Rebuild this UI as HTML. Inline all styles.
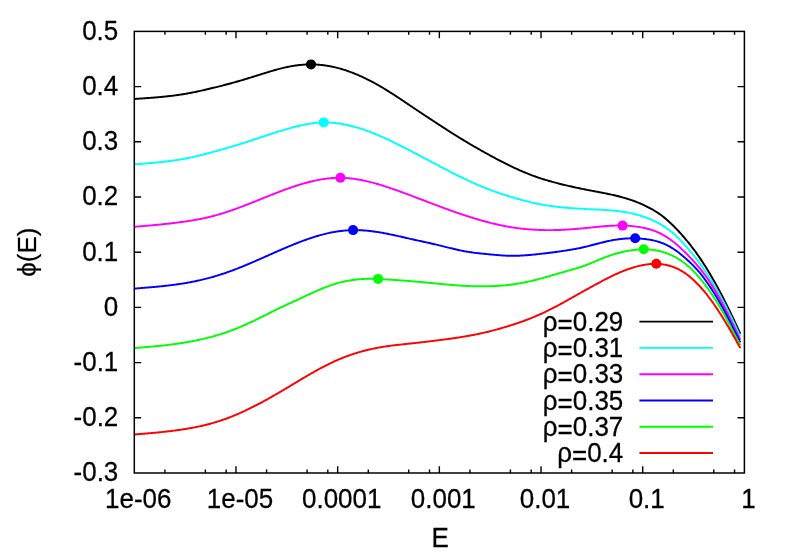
<!DOCTYPE html>
<html lang="en"><head><meta charset="utf-8"><title>plot</title>
<style>html,body{margin:0;padding:0;background:#fff}svg{display:block;will-change:transform}text{font-family:"Liberation Sans",sans-serif;font-size:26px;fill:#000;stroke:#000;stroke-width:0.25px}</style></head>
<body>
<svg width="789" height="552" viewBox="0 0 789 552">
<rect width="789" height="552" fill="#fff"/>
<path d="M134.3,98.98 135.3,98.91 136.3,98.84 137.3,98.77 138.3,98.70 139.3,98.63 140.3,98.57 141.3,98.50 142.3,98.43 143.3,98.36 144.3,98.29 145.3,98.22 146.3,98.14 147.3,98.07 148.3,98.00 149.3,97.92 150.3,97.85 151.3,97.77 152.3,97.69 153.3,97.61 154.3,97.53 155.3,97.45 156.3,97.37 157.3,97.28 158.3,97.19 159.3,97.10 160.3,97.01 161.3,96.92 162.3,96.82 163.3,96.73 164.3,96.63 165.3,96.52 166.3,96.42 167.3,96.31 168.3,96.20 169.3,96.09 170.3,95.97 171.3,95.85 172.3,95.73 173.3,95.61 174.3,95.48 175.3,95.35 176.3,95.21 177.3,95.08 178.3,94.94 179.3,94.79 180.3,94.64 181.3,94.49 182.3,94.33 183.3,94.17 184.3,94.01 185.3,93.84 186.3,93.67 187.3,93.49 188.3,93.31 189.3,93.13 190.3,92.94 191.3,92.75 192.3,92.55 193.3,92.35 194.3,92.15 195.3,91.94 196.3,91.73 197.3,91.52 198.3,91.31 199.3,91.09 200.3,90.87 201.3,90.64 202.3,90.42 203.3,90.19 204.3,89.96 205.3,89.73 206.3,89.50 207.3,89.26 208.3,89.02 209.3,88.78 210.3,88.55 211.3,88.30 212.3,88.06 213.3,87.82 214.3,87.58 215.3,87.33 216.3,87.08 217.3,86.84 218.3,86.59 219.3,86.34 220.3,86.08 221.3,85.83 222.3,85.58 223.3,85.32 224.3,85.06 225.3,84.80 226.3,84.54 227.3,84.28 228.3,84.01 229.3,83.74 230.3,83.47 231.3,83.20 232.3,82.93 233.3,82.65 234.3,82.37 235.3,82.09 236.3,81.81 237.3,81.52 238.3,81.23 239.3,80.94 240.3,80.65 241.3,80.36 242.3,80.06 243.3,79.76 244.3,79.46 245.3,79.16 246.3,78.86 247.3,78.55 248.3,78.25 249.3,77.94 250.3,77.63 251.3,77.33 252.3,77.02 253.3,76.71 254.3,76.39 255.3,76.08 256.3,75.77 257.3,75.46 258.3,75.14 259.3,74.83 260.3,74.52 261.3,74.21 262.3,73.89 263.3,73.58 264.3,73.27 265.3,72.96 266.3,72.65 267.3,72.34 268.3,72.04 269.3,71.73 270.3,71.43 271.3,71.13 272.3,70.84 273.3,70.55 274.3,70.26 275.3,69.98 276.3,69.70 277.3,69.42 278.3,69.15 279.3,68.89 280.3,68.63 281.3,68.37 282.3,68.13 283.3,67.88 284.3,67.65 285.3,67.42 286.3,67.20 287.3,66.99 288.3,66.78 289.3,66.59 290.3,66.40 291.3,66.22 292.3,66.04 293.3,65.88 294.3,65.72 295.3,65.57 296.3,65.43 297.3,65.30 298.3,65.18 299.3,65.06 300.3,64.96 301.3,64.86 302.3,64.78 303.3,64.70 304.3,64.63 305.3,64.57 306.3,64.52 307.3,64.48 308.3,64.45 309.3,64.43 310.3,64.42 311.3,64.42 312.3,64.43 313.3,64.45 314.3,64.48 315.3,64.52 316.3,64.57 317.3,64.63 318.3,64.70 319.3,64.78 320.3,64.87 321.3,64.97 322.3,65.08 323.3,65.19 324.3,65.32 325.3,65.46 326.3,65.61 327.3,65.77 328.3,65.93 329.3,66.11 330.3,66.29 331.3,66.49 332.3,66.69 333.3,66.91 334.3,67.13 335.3,67.36 336.3,67.61 337.3,67.86 338.3,68.12 339.3,68.39 340.3,68.67 341.3,68.95 342.3,69.25 343.3,69.56 344.3,69.87 345.3,70.19 346.3,70.52 347.3,70.86 348.3,71.21 349.3,71.57 350.3,71.93 351.3,72.31 352.3,72.69 353.3,73.08 354.3,73.47 355.3,73.88 356.3,74.29 357.3,74.71 358.3,75.14 359.3,75.57 360.3,76.02 361.3,76.47 362.3,76.93 363.3,77.39 364.3,77.87 365.3,78.35 366.3,78.83 367.3,79.33 368.3,79.83 369.3,80.33 370.3,80.85 371.3,81.37 372.3,81.90 373.3,82.43 374.3,82.97 375.3,83.52 376.3,84.08 377.3,84.64 378.3,85.20 379.3,85.77 380.3,86.35 381.3,86.94 382.3,87.53 383.3,88.12 384.3,88.72 385.3,89.33 386.3,89.94 387.3,90.56 388.3,91.19 389.3,91.81 390.3,92.45 391.3,93.08 392.3,93.73 393.3,94.37 394.3,95.02 395.3,95.67 396.3,96.33 397.3,96.99 398.3,97.65 399.3,98.31 400.3,98.98 401.3,99.64 402.3,100.31 403.3,100.98 404.3,101.65 405.3,102.32 406.3,103.00 407.3,103.67 408.3,104.34 409.3,105.02 410.3,105.69 411.3,106.36 412.3,107.03 413.3,107.70 414.3,108.37 415.3,109.04 416.3,109.71 417.3,110.37 418.3,111.04 419.3,111.71 420.3,112.37 421.3,113.04 422.3,113.70 423.3,114.36 424.3,115.03 425.3,115.69 426.3,116.35 427.3,117.01 428.3,117.67 429.3,118.33 430.3,118.99 431.3,119.65 432.3,120.30 433.3,120.96 434.3,121.62 435.3,122.27 436.3,122.93 437.3,123.58 438.3,124.23 439.3,124.89 440.3,125.54 441.3,126.19 442.3,126.84 443.3,127.49 444.3,128.13 445.3,128.78 446.3,129.42 447.3,130.06 448.3,130.71 449.3,131.34 450.3,131.98 451.3,132.62 452.3,133.25 453.3,133.88 454.3,134.51 455.3,135.14 456.3,135.76 457.3,136.38 458.3,137.00 459.3,137.62 460.3,138.23 461.3,138.85 462.3,139.45 463.3,140.06 464.3,140.66 465.3,141.26 466.3,141.86 467.3,142.45 468.3,143.05 469.3,143.64 470.3,144.22 471.3,144.81 472.3,145.39 473.3,145.97 474.3,146.55 475.3,147.13 476.3,147.70 477.3,148.27 478.3,148.84 479.3,149.41 480.3,149.98 481.3,150.54 482.3,151.11 483.3,151.67 484.3,152.23 485.3,152.78 486.3,153.34 487.3,153.89 488.3,154.45 489.3,155.00 490.3,155.54 491.3,156.09 492.3,156.63 493.3,157.17 494.3,157.71 495.3,158.25 496.3,158.78 497.3,159.31 498.3,159.84 499.3,160.37 500.3,160.89 501.3,161.41 502.3,161.92 503.3,162.43 504.3,162.94 505.3,163.45 506.3,163.95 507.3,164.44 508.3,164.94 509.3,165.43 510.3,165.91 511.3,166.39 512.3,166.87 513.3,167.34 514.3,167.81 515.3,168.28 516.3,168.73 517.3,169.19 518.3,169.64 519.3,170.08 520.3,170.53 521.3,170.96 522.3,171.39 523.3,171.82 524.3,172.24 525.3,172.65 526.3,173.06 527.3,173.47 528.3,173.87 529.3,174.26 530.3,174.65 531.3,175.04 532.3,175.41 533.3,175.79 534.3,176.15 535.3,176.51 536.3,176.87 537.3,177.22 538.3,177.56 539.3,177.90 540.3,178.23 541.3,178.56 542.3,178.88 543.3,179.20 544.3,179.51 545.3,179.81 546.3,180.12 547.3,180.41 548.3,180.71 549.3,181.00 550.3,181.28 551.3,181.56 552.3,181.84 553.3,182.11 554.3,182.38 555.3,182.65 556.3,182.91 557.3,183.17 558.3,183.43 559.3,183.68 560.3,183.94 561.3,184.19 562.3,184.43 563.3,184.68 564.3,184.92 565.3,185.16 566.3,185.40 567.3,185.63 568.3,185.86 569.3,186.09 570.3,186.32 571.3,186.55 572.3,186.77 573.3,187.00 574.3,187.22 575.3,187.43 576.3,187.65 577.3,187.86 578.3,188.07 579.3,188.28 580.3,188.49 581.3,188.70 582.3,188.90 583.3,189.11 584.3,189.31 585.3,189.50 586.3,189.70 587.3,189.90 588.3,190.09 589.3,190.28 590.3,190.47 591.3,190.66 592.3,190.85 593.3,191.04 594.3,191.23 595.3,191.42 596.3,191.61 597.3,191.80 598.3,191.99 599.3,192.18 600.3,192.37 601.3,192.56 602.3,192.76 603.3,192.95 604.3,193.15 605.3,193.35 606.3,193.56 607.3,193.76 608.3,193.97 609.3,194.18 610.3,194.40 611.3,194.62 612.3,194.84 613.3,195.07 614.3,195.30 615.3,195.53 616.3,195.77 617.3,196.02 618.3,196.27 619.3,196.52 620.3,196.78 621.3,197.05 622.3,197.32 623.3,197.60 624.3,197.89 625.3,198.18 626.3,198.48 627.3,198.78 628.3,199.10 629.3,199.42 630.3,199.75 631.3,200.09 632.3,200.43 633.3,200.79 634.3,201.15 635.3,201.52 636.3,201.90 637.3,202.29 638.3,202.69 639.3,203.10 640.3,203.52 641.3,203.95 642.3,204.39 643.3,204.84 644.3,205.31 645.3,205.78 646.3,206.27 647.3,206.76 648.3,207.27 649.3,207.80 650.3,208.33 651.3,208.88 652.3,209.44 653.3,210.02 654.3,210.61 655.3,211.22 656.3,211.85 657.3,212.49 658.3,213.15 659.3,213.84 660.3,214.54 661.3,215.28 662.3,216.04 663.3,216.82 664.3,217.63 665.3,218.46 666.3,219.32 667.3,220.19 668.3,221.08 669.3,221.99 670.3,222.92 671.3,223.86 672.3,224.82 673.3,225.80 674.3,226.79 675.3,227.80 676.3,228.83 677.3,229.87 678.3,230.93 679.3,232.01 680.3,233.10 681.3,234.21 682.3,235.34 683.3,236.49 684.3,237.66 685.3,238.84 686.3,240.04 687.3,241.25 688.3,242.47 689.3,243.72 690.3,244.98 691.3,246.25 692.3,247.55 693.3,248.86 694.3,250.19 695.3,251.54 696.3,252.92 697.3,254.32 698.3,255.73 699.3,257.17 700.3,258.64 701.3,260.12 702.3,261.63 703.3,263.16 704.3,264.71 705.3,266.29 706.3,267.89 707.3,269.51 708.3,271.16 709.3,272.82 710.3,274.50 711.3,276.20 712.3,277.93 713.3,279.67 714.3,281.43 715.3,283.21 716.3,285.01 717.3,286.83 718.3,288.67 719.3,290.53 720.3,292.41 721.3,294.31 722.3,296.23 723.3,298.16 724.3,300.12 725.3,302.10 726.3,304.09 727.3,306.10 728.3,308.13 729.3,310.18 730.3,312.24 731.3,314.32 732.3,316.41 733.3,318.53 734.3,320.66 735.3,322.80 736.3,324.96 737.3,327.14 738.3,329.33 739.3,331.53 740.3,333.73" fill="none" stroke="#000000" stroke-width="1.95" stroke-linejoin="round"/>
<path d="M134.3,164.40 135.3,164.32 136.3,164.24 137.3,164.16 138.3,164.09 139.3,164.01 140.3,163.93 141.3,163.85 142.3,163.77 143.3,163.68 144.3,163.60 145.3,163.52 146.3,163.44 147.3,163.35 148.3,163.27 149.3,163.18 150.3,163.09 151.3,163.01 152.3,162.92 153.3,162.82 154.3,162.73 155.3,162.64 156.3,162.54 157.3,162.44 158.3,162.34 159.3,162.24 160.3,162.13 161.3,162.03 162.3,161.92 163.3,161.81 164.3,161.69 165.3,161.58 166.3,161.46 167.3,161.34 168.3,161.21 169.3,161.08 170.3,160.95 171.3,160.82 172.3,160.68 173.3,160.54 174.3,160.40 175.3,160.25 176.3,160.10 177.3,159.94 178.3,159.79 179.3,159.62 180.3,159.46 181.3,159.29 182.3,159.11 183.3,158.93 184.3,158.75 185.3,158.56 186.3,158.37 187.3,158.17 188.3,157.97 189.3,157.77 190.3,157.56 191.3,157.34 192.3,157.12 193.3,156.90 194.3,156.68 195.3,156.45 196.3,156.21 197.3,155.98 198.3,155.74 199.3,155.50 200.3,155.25 201.3,155.00 202.3,154.75 203.3,154.50 204.3,154.24 205.3,153.99 206.3,153.73 207.3,153.47 208.3,153.20 209.3,152.94 210.3,152.67 211.3,152.40 212.3,152.13 213.3,151.86 214.3,151.59 215.3,151.32 216.3,151.04 217.3,150.77 218.3,150.49 219.3,150.21 220.3,149.93 221.3,149.65 222.3,149.37 223.3,149.08 224.3,148.79 225.3,148.51 226.3,148.22 227.3,147.93 228.3,147.63 229.3,147.34 230.3,147.04 231.3,146.75 232.3,146.45 233.3,146.14 234.3,145.84 235.3,145.54 236.3,145.23 237.3,144.92 238.3,144.61 239.3,144.30 240.3,143.99 241.3,143.67 242.3,143.35 243.3,143.04 244.3,142.72 245.3,142.40 246.3,142.07 247.3,141.75 248.3,141.43 249.3,141.10 250.3,140.77 251.3,140.45 252.3,140.12 253.3,139.79 254.3,139.46 255.3,139.13 256.3,138.81 257.3,138.48 258.3,138.15 259.3,137.81 260.3,137.48 261.3,137.15 262.3,136.82 263.3,136.49 264.3,136.16 265.3,135.83 266.3,135.51 267.3,135.18 268.3,134.85 269.3,134.52 270.3,134.20 271.3,133.87 272.3,133.55 273.3,133.23 274.3,132.91 275.3,132.59 276.3,132.27 277.3,131.96 278.3,131.64 279.3,131.33 280.3,131.02 281.3,130.72 282.3,130.41 283.3,130.11 284.3,129.81 285.3,129.52 286.3,129.22 287.3,128.93 288.3,128.64 289.3,128.36 290.3,128.08 291.3,127.80 292.3,127.53 293.3,127.27 294.3,127.00 295.3,126.74 296.3,126.49 297.3,126.24 298.3,126.00 299.3,125.77 300.3,125.54 301.3,125.31 302.3,125.10 303.3,124.89 304.3,124.68 305.3,124.49 306.3,124.30 307.3,124.12 308.3,123.94 309.3,123.78 310.3,123.62 311.3,123.48 312.3,123.34 313.3,123.21 314.3,123.09 315.3,122.98 316.3,122.88 317.3,122.79 318.3,122.71 319.3,122.64 320.3,122.58 321.3,122.53 322.3,122.50 323.3,122.47 324.3,122.46 325.3,122.46 326.3,122.47 327.3,122.49 328.3,122.52 329.3,122.57 330.3,122.62 331.3,122.69 332.3,122.76 333.3,122.85 334.3,122.95 335.3,123.05 336.3,123.17 337.3,123.29 338.3,123.43 339.3,123.57 340.3,123.72 341.3,123.88 342.3,124.05 343.3,124.23 344.3,124.42 345.3,124.62 346.3,124.82 347.3,125.04 348.3,125.26 349.3,125.49 350.3,125.73 351.3,125.97 352.3,126.23 353.3,126.49 354.3,126.76 355.3,127.04 356.3,127.32 357.3,127.61 358.3,127.91 359.3,128.22 360.3,128.53 361.3,128.85 362.3,129.18 363.3,129.51 364.3,129.85 365.3,130.20 366.3,130.55 367.3,130.91 368.3,131.27 369.3,131.64 370.3,132.02 371.3,132.40 372.3,132.79 373.3,133.19 374.3,133.59 375.3,133.99 376.3,134.40 377.3,134.82 378.3,135.24 379.3,135.66 380.3,136.09 381.3,136.53 382.3,136.97 383.3,137.41 384.3,137.86 385.3,138.31 386.3,138.77 387.3,139.23 388.3,139.69 389.3,140.16 390.3,140.64 391.3,141.11 392.3,141.59 393.3,142.07 394.3,142.56 395.3,143.05 396.3,143.54 397.3,144.04 398.3,144.53 399.3,145.04 400.3,145.54 401.3,146.04 402.3,146.55 403.3,147.06 404.3,147.58 405.3,148.09 406.3,148.61 407.3,149.12 408.3,149.64 409.3,150.16 410.3,150.69 411.3,151.21 412.3,151.74 413.3,152.26 414.3,152.79 415.3,153.32 416.3,153.85 417.3,154.37 418.3,154.90 419.3,155.44 420.3,155.97 421.3,156.50 422.3,157.03 423.3,157.56 424.3,158.10 425.3,158.63 426.3,159.16 427.3,159.69 428.3,160.22 429.3,160.76 430.3,161.29 431.3,161.82 432.3,162.35 433.3,162.88 434.3,163.41 435.3,163.94 436.3,164.46 437.3,164.99 438.3,165.52 439.3,166.04 440.3,166.57 441.3,167.09 442.3,167.61 443.3,168.14 444.3,168.66 445.3,169.18 446.3,169.69 447.3,170.21 448.3,170.73 449.3,171.24 450.3,171.75 451.3,172.26 452.3,172.77 453.3,173.28 454.3,173.78 455.3,174.28 456.3,174.78 457.3,175.28 458.3,175.78 459.3,176.27 460.3,176.76 461.3,177.25 462.3,177.73 463.3,178.21 464.3,178.69 465.3,179.17 466.3,179.64 467.3,180.12 468.3,180.59 469.3,181.05 470.3,181.52 471.3,181.98 472.3,182.44 473.3,182.89 474.3,183.34 475.3,183.79 476.3,184.24 477.3,184.68 478.3,185.11 479.3,185.54 480.3,185.97 481.3,186.39 482.3,186.81 483.3,187.22 484.3,187.63 485.3,188.03 486.3,188.42 487.3,188.81 488.3,189.20 489.3,189.58 490.3,189.95 491.3,190.32 492.3,190.69 493.3,191.05 494.3,191.40 495.3,191.75 496.3,192.10 497.3,192.45 498.3,192.79 499.3,193.12 500.3,193.46 501.3,193.79 502.3,194.11 503.3,194.44 504.3,194.76 505.3,195.07 506.3,195.39 507.3,195.70 508.3,196.01 509.3,196.31 510.3,196.62 511.3,196.92 512.3,197.22 513.3,197.52 514.3,197.82 515.3,198.11 516.3,198.40 517.3,198.69 518.3,198.97 519.3,199.26 520.3,199.54 521.3,199.81 522.3,200.09 523.3,200.36 524.3,200.62 525.3,200.89 526.3,201.14 527.3,201.40 528.3,201.65 529.3,201.90 530.3,202.14 531.3,202.38 532.3,202.61 533.3,202.84 534.3,203.06 535.3,203.28 536.3,203.49 537.3,203.70 538.3,203.90 539.3,204.10 540.3,204.29 541.3,204.48 542.3,204.66 543.3,204.83 544.3,205.01 545.3,205.17 546.3,205.34 547.3,205.49 548.3,205.65 549.3,205.80 550.3,205.94 551.3,206.08 552.3,206.22 553.3,206.35 554.3,206.48 555.3,206.61 556.3,206.73 557.3,206.85 558.3,206.96 559.3,207.07 560.3,207.18 561.3,207.28 562.3,207.38 563.3,207.48 564.3,207.57 565.3,207.67 566.3,207.75 567.3,207.84 568.3,207.92 569.3,208.00 570.3,208.08 571.3,208.16 572.3,208.23 573.3,208.30 574.3,208.37 575.3,208.44 576.3,208.50 577.3,208.56 578.3,208.62 579.3,208.68 580.3,208.74 581.3,208.79 582.3,208.85 583.3,208.90 584.3,208.95 585.3,209.00 586.3,209.05 587.3,209.10 588.3,209.14 589.3,209.19 590.3,209.23 591.3,209.28 592.3,209.32 593.3,209.36 594.3,209.41 595.3,209.45 596.3,209.50 597.3,209.55 598.3,209.60 599.3,209.64 600.3,209.70 601.3,209.75 602.3,209.81 603.3,209.86 604.3,209.92 605.3,209.99 606.3,210.05 607.3,210.12 608.3,210.19 609.3,210.27 610.3,210.35 611.3,210.44 612.3,210.52 613.3,210.62 614.3,210.72 615.3,210.82 616.3,210.93 617.3,211.04 618.3,211.16 619.3,211.29 620.3,211.42 621.3,211.56 622.3,211.70 623.3,211.85 624.3,212.01 625.3,212.18 626.3,212.35 627.3,212.53 628.3,212.72 629.3,212.91 630.3,213.12 631.3,213.33 632.3,213.55 633.3,213.79 634.3,214.03 635.3,214.28 636.3,214.53 637.3,214.80 638.3,215.08 639.3,215.37 640.3,215.67 641.3,215.98 642.3,216.30 643.3,216.63 644.3,216.97 645.3,217.33 646.3,217.69 647.3,218.07 648.3,218.45 649.3,218.85 650.3,219.26 651.3,219.68 652.3,220.12 653.3,220.57 654.3,221.03 655.3,221.51 656.3,222.00 657.3,222.51 658.3,223.03 659.3,223.57 660.3,224.13 661.3,224.71 662.3,225.32 663.3,225.94 664.3,226.59 665.3,227.26 666.3,227.95 667.3,228.67 668.3,229.41 669.3,230.17 670.3,230.96 671.3,231.78 672.3,232.61 673.3,233.47 674.3,234.35 675.3,235.25 676.3,236.17 677.3,237.12 678.3,238.08 679.3,239.07 680.3,240.09 681.3,241.12 682.3,242.18 683.3,243.26 684.3,244.36 685.3,245.48 686.3,246.61 687.3,247.76 688.3,248.92 689.3,250.10 690.3,251.30 691.3,252.51 692.3,253.74 693.3,254.99 694.3,256.26 695.3,257.54 696.3,258.85 697.3,260.17 698.3,261.51 699.3,262.87 700.3,264.25 701.3,265.65 702.3,267.06 703.3,268.50 704.3,269.96 705.3,271.44 706.3,272.93 707.3,274.45 708.3,275.99 709.3,277.55 710.3,279.13 711.3,280.73 712.3,282.36 713.3,284.00 714.3,285.66 715.3,287.34 716.3,289.05 717.3,290.77 718.3,292.51 719.3,294.28 720.3,296.06 721.3,297.87 722.3,299.70 723.3,301.54 724.3,303.41 725.3,305.31 726.3,307.24 727.3,309.19 728.3,311.16 729.3,313.17 730.3,315.19 731.3,317.24 732.3,319.31 733.3,321.40 734.3,323.51 735.3,325.64 736.3,327.80 737.3,329.96 738.3,332.14 739.3,334.33 740.3,336.52" fill="none" stroke="#00ffff" stroke-width="1.95" stroke-linejoin="round"/>
<path d="M134.3,226.80 135.3,226.72 136.3,226.63 137.3,226.55 138.3,226.46 139.3,226.38 140.3,226.30 141.3,226.21 142.3,226.13 143.3,226.04 144.3,225.96 145.3,225.87 146.3,225.79 147.3,225.70 148.3,225.61 149.3,225.52 150.3,225.43 151.3,225.35 152.3,225.26 153.3,225.16 154.3,225.07 155.3,224.98 156.3,224.89 157.3,224.79 158.3,224.70 159.3,224.60 160.3,224.50 161.3,224.40 162.3,224.30 163.3,224.20 164.3,224.09 165.3,223.99 166.3,223.88 167.3,223.77 168.3,223.66 169.3,223.55 170.3,223.44 171.3,223.32 172.3,223.21 173.3,223.09 174.3,222.97 175.3,222.85 176.3,222.72 177.3,222.59 178.3,222.47 179.3,222.33 180.3,222.20 181.3,222.07 182.3,221.93 183.3,221.79 184.3,221.64 185.3,221.50 186.3,221.35 187.3,221.20 188.3,221.05 189.3,220.89 190.3,220.73 191.3,220.57 192.3,220.40 193.3,220.23 194.3,220.06 195.3,219.89 196.3,219.71 197.3,219.52 198.3,219.33 199.3,219.14 200.3,218.95 201.3,218.75 202.3,218.54 203.3,218.33 204.3,218.12 205.3,217.90 206.3,217.68 207.3,217.45 208.3,217.22 209.3,216.98 210.3,216.73 211.3,216.49 212.3,216.23 213.3,215.97 214.3,215.70 215.3,215.43 216.3,215.15 217.3,214.87 218.3,214.59 219.3,214.29 220.3,214.00 221.3,213.70 222.3,213.39 223.3,213.08 224.3,212.76 225.3,212.44 226.3,212.12 227.3,211.79 228.3,211.46 229.3,211.12 230.3,210.78 231.3,210.44 232.3,210.09 233.3,209.74 234.3,209.38 235.3,209.03 236.3,208.66 237.3,208.30 238.3,207.93 239.3,207.56 240.3,207.19 241.3,206.81 242.3,206.43 243.3,206.05 244.3,205.67 245.3,205.28 246.3,204.89 247.3,204.50 248.3,204.11 249.3,203.72 250.3,203.32 251.3,202.93 252.3,202.53 253.3,202.13 254.3,201.73 255.3,201.33 256.3,200.93 257.3,200.53 258.3,200.12 259.3,199.72 260.3,199.32 261.3,198.91 262.3,198.51 263.3,198.11 264.3,197.71 265.3,197.30 266.3,196.90 267.3,196.50 268.3,196.10 269.3,195.70 270.3,195.30 271.3,194.90 272.3,194.51 273.3,194.11 274.3,193.72 275.3,193.33 276.3,192.94 277.3,192.55 278.3,192.17 279.3,191.78 280.3,191.40 281.3,191.02 282.3,190.65 283.3,190.27 284.3,189.90 285.3,189.53 286.3,189.17 287.3,188.81 288.3,188.45 289.3,188.10 290.3,187.75 291.3,187.40 292.3,187.06 293.3,186.72 294.3,186.38 295.3,186.05 296.3,185.73 297.3,185.40 298.3,185.09 299.3,184.78 300.3,184.47 301.3,184.17 302.3,183.87 303.3,183.58 304.3,183.29 305.3,183.01 306.3,182.74 307.3,182.47 308.3,182.21 309.3,181.95 310.3,181.70 311.3,181.46 312.3,181.22 313.3,180.99 314.3,180.77 315.3,180.56 316.3,180.35 317.3,180.14 318.3,179.95 319.3,179.76 320.3,179.59 321.3,179.41 322.3,179.25 323.3,179.10 324.3,178.95 325.3,178.81 326.3,178.68 327.3,178.56 328.3,178.45 329.3,178.35 330.3,178.25 331.3,178.17 332.3,178.09 333.3,178.02 334.3,177.97 335.3,177.92 336.3,177.88 337.3,177.86 338.3,177.84 339.3,177.83 340.3,177.84 341.3,177.85 342.3,177.87 343.3,177.91 344.3,177.95 345.3,178.00 346.3,178.07 347.3,178.14 348.3,178.22 349.3,178.31 350.3,178.41 351.3,178.52 352.3,178.64 353.3,178.77 354.3,178.90 355.3,179.04 356.3,179.20 357.3,179.35 358.3,179.52 359.3,179.70 360.3,179.88 361.3,180.07 362.3,180.26 363.3,180.47 364.3,180.68 365.3,180.89 366.3,181.12 367.3,181.35 368.3,181.59 369.3,181.83 370.3,182.08 371.3,182.33 372.3,182.59 373.3,182.86 374.3,183.13 375.3,183.40 376.3,183.69 377.3,183.97 378.3,184.26 379.3,184.56 380.3,184.86 381.3,185.16 382.3,185.47 383.3,185.79 384.3,186.10 385.3,186.42 386.3,186.75 387.3,187.07 388.3,187.41 389.3,187.74 390.3,188.08 391.3,188.42 392.3,188.76 393.3,189.11 394.3,189.46 395.3,189.81 396.3,190.16 397.3,190.52 398.3,190.87 399.3,191.23 400.3,191.60 401.3,191.96 402.3,192.33 403.3,192.70 404.3,193.07 405.3,193.44 406.3,193.81 407.3,194.18 408.3,194.56 409.3,194.93 410.3,195.31 411.3,195.69 412.3,196.07 413.3,196.44 414.3,196.82 415.3,197.20 416.3,197.59 417.3,197.97 418.3,198.35 419.3,198.73 420.3,199.11 421.3,199.49 422.3,199.88 423.3,200.26 424.3,200.64 425.3,201.02 426.3,201.41 427.3,201.79 428.3,202.17 429.3,202.55 430.3,202.93 431.3,203.31 432.3,203.69 433.3,204.07 434.3,204.45 435.3,204.83 436.3,205.21 437.3,205.59 438.3,205.96 439.3,206.34 440.3,206.71 441.3,207.08 442.3,207.45 443.3,207.82 444.3,208.19 445.3,208.56 446.3,208.92 447.3,209.28 448.3,209.65 449.3,210.01 450.3,210.36 451.3,210.72 452.3,211.08 453.3,211.43 454.3,211.78 455.3,212.13 456.3,212.48 457.3,212.82 458.3,213.16 459.3,213.51 460.3,213.84 461.3,214.18 462.3,214.52 463.3,214.85 464.3,215.18 465.3,215.51 466.3,215.83 467.3,216.16 468.3,216.48 469.3,216.79 470.3,217.11 471.3,217.42 472.3,217.73 473.3,218.04 474.3,218.35 475.3,218.65 476.3,218.95 477.3,219.25 478.3,219.54 479.3,219.83 480.3,220.12 481.3,220.40 482.3,220.69 483.3,220.97 484.3,221.24 485.3,221.51 486.3,221.78 487.3,222.05 488.3,222.31 489.3,222.57 490.3,222.83 491.3,223.08 492.3,223.33 493.3,223.57 494.3,223.81 495.3,224.05 496.3,224.28 497.3,224.51 498.3,224.73 499.3,224.95 500.3,225.17 501.3,225.38 502.3,225.58 503.3,225.79 504.3,225.98 505.3,226.18 506.3,226.36 507.3,226.55 508.3,226.73 509.3,226.90 510.3,227.07 511.3,227.23 512.3,227.39 513.3,227.55 514.3,227.69 515.3,227.84 516.3,227.98 517.3,228.11 518.3,228.24 519.3,228.36 520.3,228.48 521.3,228.60 522.3,228.71 523.3,228.81 524.3,228.92 525.3,229.01 526.3,229.11 527.3,229.19 528.3,229.28 529.3,229.36 530.3,229.43 531.3,229.51 532.3,229.57 533.3,229.64 534.3,229.70 535.3,229.75 536.3,229.80 537.3,229.85 538.3,229.89 539.3,229.93 540.3,229.97 541.3,230.00 542.3,230.03 543.3,230.06 544.3,230.08 545.3,230.10 546.3,230.11 547.3,230.12 548.3,230.13 549.3,230.13 550.3,230.13 551.3,230.12 552.3,230.12 553.3,230.10 554.3,230.09 555.3,230.07 556.3,230.05 557.3,230.02 558.3,229.99 559.3,229.96 560.3,229.92 561.3,229.88 562.3,229.84 563.3,229.79 564.3,229.74 565.3,229.69 566.3,229.63 567.3,229.57 568.3,229.51 569.3,229.44 570.3,229.37 571.3,229.30 572.3,229.23 573.3,229.15 574.3,229.07 575.3,228.99 576.3,228.91 577.3,228.82 578.3,228.73 579.3,228.64 580.3,228.55 581.3,228.46 582.3,228.37 583.3,228.27 584.3,228.18 585.3,228.08 586.3,227.98 587.3,227.88 588.3,227.78 589.3,227.68 590.3,227.57 591.3,227.47 592.3,227.37 593.3,227.27 594.3,227.17 595.3,227.07 596.3,226.97 597.3,226.87 598.3,226.77 599.3,226.68 600.3,226.59 601.3,226.50 602.3,226.41 603.3,226.33 604.3,226.24 605.3,226.17 606.3,226.09 607.3,226.02 608.3,225.95 609.3,225.89 610.3,225.83 611.3,225.78 612.3,225.73 613.3,225.68 614.3,225.65 615.3,225.61 616.3,225.59 617.3,225.56 618.3,225.55 619.3,225.54 620.3,225.54 621.3,225.55 622.3,225.56 623.3,225.58 624.3,225.61 625.3,225.65 626.3,225.69 627.3,225.74 628.3,225.80 629.3,225.87 630.3,225.95 631.3,226.04 632.3,226.13 633.3,226.24 634.3,226.35 635.3,226.47 636.3,226.60 637.3,226.74 638.3,226.89 639.3,227.06 640.3,227.23 641.3,227.41 642.3,227.60 643.3,227.80 644.3,228.01 645.3,228.23 646.3,228.46 647.3,228.71 648.3,228.96 649.3,229.23 650.3,229.52 651.3,229.82 652.3,230.14 653.3,230.47 654.3,230.83 655.3,231.21 656.3,231.61 657.3,232.04 658.3,232.49 659.3,232.95 660.3,233.44 661.3,233.95 662.3,234.48 663.3,235.04 664.3,235.61 665.3,236.21 666.3,236.83 667.3,237.47 668.3,238.13 669.3,238.81 670.3,239.52 671.3,240.25 672.3,241.01 673.3,241.79 674.3,242.59 675.3,243.41 676.3,244.25 677.3,245.11 678.3,245.99 679.3,246.88 680.3,247.79 681.3,248.72 682.3,249.66 683.3,250.61 684.3,251.57 685.3,252.55 686.3,253.53 687.3,254.53 688.3,255.54 689.3,256.56 690.3,257.60 691.3,258.64 692.3,259.71 693.3,260.79 694.3,261.89 695.3,263.01 696.3,264.15 697.3,265.30 698.3,266.48 699.3,267.69 700.3,268.92 701.3,270.17 702.3,271.44 703.3,272.75 704.3,274.08 705.3,275.45 706.3,276.84 707.3,278.27 708.3,279.73 709.3,281.23 710.3,282.75 711.3,284.30 712.3,285.89 713.3,287.50 714.3,289.14 715.3,290.81 716.3,292.50 717.3,294.22 718.3,295.96 719.3,297.73 720.3,299.53 721.3,301.34 722.3,303.19 723.3,305.06 724.3,306.95 725.3,308.88 726.3,310.83 727.3,312.80 728.3,314.80 729.3,316.81 730.3,318.85 731.3,320.91 732.3,322.98 733.3,325.07 734.3,327.17 735.3,329.29 736.3,331.41 737.3,333.53 738.3,335.64 739.3,337.75 740.3,339.85" fill="none" stroke="#ff00ff" stroke-width="1.95" stroke-linejoin="round"/>
<path d="M134.3,288.60 135.3,288.52 136.3,288.44 137.3,288.36 138.3,288.28 139.3,288.20 140.3,288.12 141.3,288.04 142.3,287.96 143.3,287.88 144.3,287.80 145.3,287.72 146.3,287.63 147.3,287.55 148.3,287.47 149.3,287.38 150.3,287.29 151.3,287.21 152.3,287.12 153.3,287.03 154.3,286.94 155.3,286.85 156.3,286.75 157.3,286.66 158.3,286.56 159.3,286.47 160.3,286.37 161.3,286.26 162.3,286.16 163.3,286.06 164.3,285.95 165.3,285.84 166.3,285.73 167.3,285.61 168.3,285.50 169.3,285.38 170.3,285.26 171.3,285.13 172.3,285.01 173.3,284.88 174.3,284.75 175.3,284.61 176.3,284.48 177.3,284.34 178.3,284.19 179.3,284.05 180.3,283.90 181.3,283.74 182.3,283.59 183.3,283.43 184.3,283.26 185.3,283.10 186.3,282.92 187.3,282.75 188.3,282.57 189.3,282.39 190.3,282.20 191.3,282.01 192.3,281.82 193.3,281.62 194.3,281.42 195.3,281.21 196.3,281.00 197.3,280.79 198.3,280.57 199.3,280.35 200.3,280.12 201.3,279.89 202.3,279.66 203.3,279.42 204.3,279.17 205.3,278.92 206.3,278.67 207.3,278.41 208.3,278.15 209.3,277.88 210.3,277.61 211.3,277.33 212.3,277.05 213.3,276.76 214.3,276.47 215.3,276.17 216.3,275.87 217.3,275.57 218.3,275.26 219.3,274.94 220.3,274.63 221.3,274.30 222.3,273.97 223.3,273.64 224.3,273.31 225.3,272.97 226.3,272.62 227.3,272.27 228.3,271.92 229.3,271.56 230.3,271.20 231.3,270.84 232.3,270.47 233.3,270.10 234.3,269.72 235.3,269.34 236.3,268.96 237.3,268.57 238.3,268.18 239.3,267.78 240.3,267.38 241.3,266.98 242.3,266.58 243.3,266.17 244.3,265.76 245.3,265.35 246.3,264.93 247.3,264.51 248.3,264.09 249.3,263.67 250.3,263.24 251.3,262.82 252.3,262.39 253.3,261.96 254.3,261.52 255.3,261.09 256.3,260.65 257.3,260.22 258.3,259.78 259.3,259.34 260.3,258.90 261.3,258.46 262.3,258.02 263.3,257.57 264.3,257.13 265.3,256.69 266.3,256.24 267.3,255.80 268.3,255.35 269.3,254.91 270.3,254.47 271.3,254.02 272.3,253.58 273.3,253.14 274.3,252.69 275.3,252.25 276.3,251.81 277.3,251.37 278.3,250.93 279.3,250.50 280.3,250.06 281.3,249.63 282.3,249.20 283.3,248.76 284.3,248.33 285.3,247.91 286.3,247.48 287.3,247.06 288.3,246.64 289.3,246.22 290.3,245.80 291.3,245.39 292.3,244.98 293.3,244.57 294.3,244.17 295.3,243.77 296.3,243.37 297.3,242.98 298.3,242.59 299.3,242.20 300.3,241.82 301.3,241.44 302.3,241.06 303.3,240.69 304.3,240.32 305.3,239.96 306.3,239.60 307.3,239.25 308.3,238.90 309.3,238.56 310.3,238.22 311.3,237.88 312.3,237.56 313.3,237.23 314.3,236.92 315.3,236.61 316.3,236.30 317.3,236.00 318.3,235.71 319.3,235.42 320.3,235.14 321.3,234.86 322.3,234.60 323.3,234.33 324.3,234.08 325.3,233.83 326.3,233.59 327.3,233.36 328.3,233.13 329.3,232.91 330.3,232.70 331.3,232.50 332.3,232.30 333.3,232.11 334.3,231.93 335.3,231.76 336.3,231.60 337.3,231.44 338.3,231.30 339.3,231.16 340.3,231.03 341.3,230.91 342.3,230.80 343.3,230.69 344.3,230.60 345.3,230.51 346.3,230.43 347.3,230.36 348.3,230.30 349.3,230.25 350.3,230.20 351.3,230.17 352.3,230.14 353.3,230.12 354.3,230.11 355.3,230.11 356.3,230.12 357.3,230.14 358.3,230.16 359.3,230.20 360.3,230.24 361.3,230.29 362.3,230.34 363.3,230.41 364.3,230.48 365.3,230.55 366.3,230.64 367.3,230.73 368.3,230.83 369.3,230.93 370.3,231.05 371.3,231.16 372.3,231.29 373.3,231.42 374.3,231.55 375.3,231.69 376.3,231.84 377.3,231.99 378.3,232.15 379.3,232.31 380.3,232.48 381.3,232.65 382.3,232.82 383.3,233.01 384.3,233.19 385.3,233.38 386.3,233.57 387.3,233.77 388.3,233.97 389.3,234.17 390.3,234.38 391.3,234.59 392.3,234.80 393.3,235.02 394.3,235.23 395.3,235.45 396.3,235.67 397.3,235.90 398.3,236.12 399.3,236.35 400.3,236.57 401.3,236.80 402.3,237.03 403.3,237.26 404.3,237.49 405.3,237.72 406.3,237.95 407.3,238.17 408.3,238.40 409.3,238.63 410.3,238.85 411.3,239.08 412.3,239.30 413.3,239.52 414.3,239.75 415.3,239.97 416.3,240.19 417.3,240.41 418.3,240.63 419.3,240.84 420.3,241.06 421.3,241.28 422.3,241.50 423.3,241.72 424.3,241.94 425.3,242.16 426.3,242.38 427.3,242.60 428.3,242.82 429.3,243.04 430.3,243.27 431.3,243.49 432.3,243.72 433.3,243.95 434.3,244.18 435.3,244.41 436.3,244.64 437.3,244.88 438.3,245.12 439.3,245.36 440.3,245.60 441.3,245.85 442.3,246.09 443.3,246.34 444.3,246.59 445.3,246.84 446.3,247.09 447.3,247.34 448.3,247.59 449.3,247.83 450.3,248.08 451.3,248.32 452.3,248.57 453.3,248.81 454.3,249.04 455.3,249.28 456.3,249.51 457.3,249.74 458.3,249.96 459.3,250.18 460.3,250.39 461.3,250.60 462.3,250.80 463.3,251.00 464.3,251.19 465.3,251.38 466.3,251.56 467.3,251.73 468.3,251.89 469.3,252.05 470.3,252.20 471.3,252.34 472.3,252.48 473.3,252.61 474.3,252.74 475.3,252.87 476.3,252.99 477.3,253.10 478.3,253.21 479.3,253.32 480.3,253.43 481.3,253.53 482.3,253.64 483.3,253.74 484.3,253.83 485.3,253.93 486.3,254.03 487.3,254.13 488.3,254.22 489.3,254.32 490.3,254.42 491.3,254.51 492.3,254.61 493.3,254.70 494.3,254.79 495.3,254.88 496.3,254.97 497.3,255.06 498.3,255.14 499.3,255.22 500.3,255.30 501.3,255.37 502.3,255.44 503.3,255.50 504.3,255.56 505.3,255.61 506.3,255.66 507.3,255.70 508.3,255.74 509.3,255.77 510.3,255.80 511.3,255.81 512.3,255.82 513.3,255.82 514.3,255.82 515.3,255.80 516.3,255.78 517.3,255.76 518.3,255.72 519.3,255.68 520.3,255.64 521.3,255.59 522.3,255.53 523.3,255.47 524.3,255.40 525.3,255.33 526.3,255.25 527.3,255.17 528.3,255.09 529.3,255.00 530.3,254.91 531.3,254.81 532.3,254.72 533.3,254.62 534.3,254.52 535.3,254.41 536.3,254.31 537.3,254.20 538.3,254.10 539.3,253.99 540.3,253.88 541.3,253.76 542.3,253.65 543.3,253.54 544.3,253.42 545.3,253.30 546.3,253.18 547.3,253.06 548.3,252.94 549.3,252.82 550.3,252.69 551.3,252.57 552.3,252.44 553.3,252.31 554.3,252.18 555.3,252.04 556.3,251.91 557.3,251.77 558.3,251.63 559.3,251.49 560.3,251.35 561.3,251.21 562.3,251.06 563.3,250.91 564.3,250.76 565.3,250.61 566.3,250.46 567.3,250.30 568.3,250.15 569.3,249.99 570.3,249.82 571.3,249.66 572.3,249.49 573.3,249.31 574.3,249.13 575.3,248.95 576.3,248.76 577.3,248.57 578.3,248.37 579.3,248.17 580.3,247.96 581.3,247.75 582.3,247.52 583.3,247.30 584.3,247.06 585.3,246.82 586.3,246.58 587.3,246.33 588.3,246.08 589.3,245.82 590.3,245.56 591.3,245.30 592.3,245.04 593.3,244.77 594.3,244.51 595.3,244.24 596.3,243.98 597.3,243.71 598.3,243.45 599.3,243.19 600.3,242.93 601.3,242.68 602.3,242.43 603.3,242.18 604.3,241.94 605.3,241.71 606.3,241.48 607.3,241.26 608.3,241.05 609.3,240.84 610.3,240.64 611.3,240.44 612.3,240.26 613.3,240.08 614.3,239.91 615.3,239.75 616.3,239.59 617.3,239.45 618.3,239.31 619.3,239.18 620.3,239.06 621.3,238.95 622.3,238.84 623.3,238.75 624.3,238.66 625.3,238.59 626.3,238.52 627.3,238.46 628.3,238.41 629.3,238.37 630.3,238.34 631.3,238.32 632.3,238.31 633.3,238.31 634.3,238.32 635.3,238.34 636.3,238.37 637.3,238.41 638.3,238.46 639.3,238.52 640.3,238.59 641.3,238.67 642.3,238.76 643.3,238.86 644.3,238.97 645.3,239.09 646.3,239.21 647.3,239.35 648.3,239.50 649.3,239.65 650.3,239.82 651.3,240.00 652.3,240.20 653.3,240.41 654.3,240.63 655.3,240.87 656.3,241.13 657.3,241.41 658.3,241.70 659.3,242.02 660.3,242.36 661.3,242.72 662.3,243.10 663.3,243.50 664.3,243.93 665.3,244.38 666.3,244.85 667.3,245.34 668.3,245.86 669.3,246.40 670.3,246.97 671.3,247.55 672.3,248.16 673.3,248.80 674.3,249.45 675.3,250.13 676.3,250.84 677.3,251.57 678.3,252.32 679.3,253.09 680.3,253.89 681.3,254.71 682.3,255.54 683.3,256.40 684.3,257.26 685.3,258.14 686.3,259.02 687.3,259.92 688.3,260.83 689.3,261.76 690.3,262.70 691.3,263.66 692.3,264.64 693.3,265.64 694.3,266.67 695.3,267.72 696.3,268.80 697.3,269.91 698.3,271.06 699.3,272.23 700.3,273.44 701.3,274.69 702.3,275.97 703.3,277.27 704.3,278.61 705.3,279.97 706.3,281.36 707.3,282.77 708.3,284.21 709.3,285.67 710.3,287.15 711.3,288.66 712.3,290.20 713.3,291.76 714.3,293.35 715.3,294.96 716.3,296.60 717.3,298.27 718.3,299.96 719.3,301.68 720.3,303.43 721.3,305.22 722.3,307.03 723.3,308.88 724.3,310.75 725.3,312.65 726.3,314.57 727.3,316.51 728.3,318.47 729.3,320.44 730.3,322.43 731.3,324.43 732.3,326.43 733.3,328.44 734.3,330.45 735.3,332.45 736.3,334.45 737.3,336.44 738.3,338.42 739.3,340.39 740.3,342.36" fill="none" stroke="#0000ff" stroke-width="1.95" stroke-linejoin="round"/>
<path d="M134.3,348.10 135.3,348.02 136.3,347.94 137.3,347.85 138.3,347.77 139.3,347.69 140.3,347.60 141.3,347.52 142.3,347.44 143.3,347.35 144.3,347.27 145.3,347.18 146.3,347.09 147.3,347.01 148.3,346.92 149.3,346.83 150.3,346.74 151.3,346.65 152.3,346.56 153.3,346.47 154.3,346.37 155.3,346.28 156.3,346.18 157.3,346.08 158.3,345.99 159.3,345.88 160.3,345.78 161.3,345.68 162.3,345.57 163.3,345.46 164.3,345.35 165.3,345.24 166.3,345.13 167.3,345.01 168.3,344.90 169.3,344.78 170.3,344.65 171.3,344.53 172.3,344.40 173.3,344.27 174.3,344.14 175.3,344.00 176.3,343.87 177.3,343.73 178.3,343.58 179.3,343.44 180.3,343.29 181.3,343.13 182.3,342.98 183.3,342.82 184.3,342.66 185.3,342.49 186.3,342.32 187.3,342.15 188.3,341.97 189.3,341.79 190.3,341.61 191.3,341.42 192.3,341.23 193.3,341.04 194.3,340.84 195.3,340.64 196.3,340.43 197.3,340.22 198.3,340.01 199.3,339.79 200.3,339.57 201.3,339.35 202.3,339.12 203.3,338.88 204.3,338.65 205.3,338.40 206.3,338.16 207.3,337.91 208.3,337.65 209.3,337.40 210.3,337.13 211.3,336.87 212.3,336.60 213.3,336.32 214.3,336.04 215.3,335.76 216.3,335.47 217.3,335.17 218.3,334.87 219.3,334.57 220.3,334.26 221.3,333.95 222.3,333.63 223.3,333.31 224.3,332.98 225.3,332.64 226.3,332.31 227.3,331.96 228.3,331.61 229.3,331.25 230.3,330.89 231.3,330.52 232.3,330.15 233.3,329.77 234.3,329.39 235.3,329.00 236.3,328.60 237.3,328.19 238.3,327.79 239.3,327.37 240.3,326.95 241.3,326.52 242.3,326.09 243.3,325.65 244.3,325.21 245.3,324.76 246.3,324.31 247.3,323.86 248.3,323.40 249.3,322.94 250.3,322.47 251.3,322.00 252.3,321.52 253.3,321.05 254.3,320.57 255.3,320.09 256.3,319.60 257.3,319.11 258.3,318.62 259.3,318.13 260.3,317.64 261.3,317.14 262.3,316.65 263.3,316.15 264.3,315.65 265.3,315.15 266.3,314.66 267.3,314.16 268.3,313.66 269.3,313.16 270.3,312.66 271.3,312.16 272.3,311.66 273.3,311.16 274.3,310.67 275.3,310.17 276.3,309.68 277.3,309.19 278.3,308.69 279.3,308.21 280.3,307.72 281.3,307.24 282.3,306.76 283.3,306.28 284.3,305.80 285.3,305.33 286.3,304.86 287.3,304.40 288.3,303.94 289.3,303.48 290.3,303.02 291.3,302.56 292.3,302.11 293.3,301.65 294.3,301.20 295.3,300.75 296.3,300.29 297.3,299.83 298.3,299.37 299.3,298.91 300.3,298.45 301.3,297.98 302.3,297.52 303.3,297.05 304.3,296.58 305.3,296.12 306.3,295.65 307.3,295.19 308.3,294.72 309.3,294.26 310.3,293.80 311.3,293.34 312.3,292.88 313.3,292.42 314.3,291.97 315.3,291.53 316.3,291.08 317.3,290.64 318.3,290.21 319.3,289.77 320.3,289.35 321.3,288.93 322.3,288.51 323.3,288.10 324.3,287.70 325.3,287.31 326.3,286.92 327.3,286.54 328.3,286.16 329.3,285.80 330.3,285.44 331.3,285.09 332.3,284.75 333.3,284.43 334.3,284.11 335.3,283.80 336.3,283.50 337.3,283.21 338.3,282.93 339.3,282.66 340.3,282.40 341.3,282.16 342.3,281.92 343.3,281.69 344.3,281.47 345.3,281.26 346.3,281.06 347.3,280.87 348.3,280.69 349.3,280.52 350.3,280.35 351.3,280.20 352.3,280.05 353.3,279.92 354.3,279.79 355.3,279.67 356.3,279.56 357.3,279.45 358.3,279.36 359.3,279.27 360.3,279.19 361.3,279.12 362.3,279.05 363.3,278.99 364.3,278.94 365.3,278.90 366.3,278.87 367.3,278.84 368.3,278.82 369.3,278.80 370.3,278.79 371.3,278.79 372.3,278.79 373.3,278.81 374.3,278.82 375.3,278.85 376.3,278.88 377.3,278.91 378.3,278.95 379.3,279.00 380.3,279.05 381.3,279.10 382.3,279.16 383.3,279.22 384.3,279.29 385.3,279.35 386.3,279.41 387.3,279.48 388.3,279.54 389.3,279.61 390.3,279.67 391.3,279.74 392.3,279.81 393.3,279.87 394.3,279.94 395.3,280.01 396.3,280.07 397.3,280.14 398.3,280.21 399.3,280.28 400.3,280.35 401.3,280.42 402.3,280.50 403.3,280.57 404.3,280.64 405.3,280.72 406.3,280.79 407.3,280.87 408.3,280.95 409.3,281.03 410.3,281.11 411.3,281.19 412.3,281.27 413.3,281.36 414.3,281.44 415.3,281.53 416.3,281.62 417.3,281.70 418.3,281.79 419.3,281.88 420.3,281.97 421.3,282.06 422.3,282.16 423.3,282.25 424.3,282.34 425.3,282.44 426.3,282.53 427.3,282.63 428.3,282.72 429.3,282.82 430.3,282.91 431.3,283.01 432.3,283.11 433.3,283.21 434.3,283.30 435.3,283.40 436.3,283.50 437.3,283.60 438.3,283.70 439.3,283.80 440.3,283.89 441.3,283.99 442.3,284.09 443.3,284.18 444.3,284.28 445.3,284.37 446.3,284.47 447.3,284.56 448.3,284.65 449.3,284.74 450.3,284.83 451.3,284.91 452.3,285.00 453.3,285.08 454.3,285.16 455.3,285.24 456.3,285.32 457.3,285.39 458.3,285.47 459.3,285.54 460.3,285.60 461.3,285.67 462.3,285.73 463.3,285.79 464.3,285.84 465.3,285.90 466.3,285.95 467.3,285.99 468.3,286.03 469.3,286.07 470.3,286.11 471.3,286.14 472.3,286.17 473.3,286.19 474.3,286.22 475.3,286.23 476.3,286.25 477.3,286.26 478.3,286.27 479.3,286.28 480.3,286.28 481.3,286.28 482.3,286.28 483.3,286.28 484.3,286.27 485.3,286.26 486.3,286.24 487.3,286.23 488.3,286.21 489.3,286.18 490.3,286.16 491.3,286.13 492.3,286.09 493.3,286.06 494.3,286.01 495.3,285.97 496.3,285.92 497.3,285.87 498.3,285.81 499.3,285.74 500.3,285.68 501.3,285.60 502.3,285.53 503.3,285.44 504.3,285.35 505.3,285.26 506.3,285.16 507.3,285.05 508.3,284.94 509.3,284.83 510.3,284.70 511.3,284.57 512.3,284.44 513.3,284.30 514.3,284.16 515.3,284.01 516.3,283.85 517.3,283.69 518.3,283.52 519.3,283.35 520.3,283.17 521.3,282.99 522.3,282.81 523.3,282.62 524.3,282.42 525.3,282.22 526.3,282.01 527.3,281.80 528.3,281.59 529.3,281.37 530.3,281.14 531.3,280.91 532.3,280.68 533.3,280.44 534.3,280.20 535.3,279.96 536.3,279.71 537.3,279.45 538.3,279.19 539.3,278.93 540.3,278.67 541.3,278.40 542.3,278.13 543.3,277.85 544.3,277.58 545.3,277.30 546.3,277.01 547.3,276.73 548.3,276.44 549.3,276.16 550.3,275.87 551.3,275.58 552.3,275.29 553.3,274.99 554.3,274.70 555.3,274.41 556.3,274.12 557.3,273.82 558.3,273.53 559.3,273.24 560.3,272.94 561.3,272.65 562.3,272.36 563.3,272.07 564.3,271.79 565.3,271.50 566.3,271.21 567.3,270.93 568.3,270.65 569.3,270.37 570.3,270.09 571.3,269.80 572.3,269.52 573.3,269.23 574.3,268.94 575.3,268.65 576.3,268.35 577.3,268.05 578.3,267.74 579.3,267.43 580.3,267.11 581.3,266.78 582.3,266.45 583.3,266.11 584.3,265.75 585.3,265.39 586.3,265.02 587.3,264.64 588.3,264.25 589.3,263.85 590.3,263.45 591.3,263.03 592.3,262.62 593.3,262.19 594.3,261.77 595.3,261.35 596.3,260.92 597.3,260.50 598.3,260.07 599.3,259.65 600.3,259.23 601.3,258.82 602.3,258.41 603.3,258.00 604.3,257.61 605.3,257.21 606.3,256.83 607.3,256.46 608.3,256.09 609.3,255.74 610.3,255.39 611.3,255.06 612.3,254.73 613.3,254.41 614.3,254.10 615.3,253.81 616.3,253.52 617.3,253.24 618.3,252.96 619.3,252.70 620.3,252.45 621.3,252.21 622.3,251.98 623.3,251.75 624.3,251.54 625.3,251.33 626.3,251.14 627.3,250.95 628.3,250.78 629.3,250.61 630.3,250.45 631.3,250.31 632.3,250.17 633.3,250.04 634.3,249.92 635.3,249.81 636.3,249.71 637.3,249.62 638.3,249.55 639.3,249.48 640.3,249.42 641.3,249.38 642.3,249.35 643.3,249.33 644.3,249.33 645.3,249.34 646.3,249.37 647.3,249.41 648.3,249.46 649.3,249.53 650.3,249.61 651.3,249.71 652.3,249.83 653.3,249.96 654.3,250.10 655.3,250.26 656.3,250.44 657.3,250.63 658.3,250.84 659.3,251.07 660.3,251.31 661.3,251.57 662.3,251.84 663.3,252.14 664.3,252.45 665.3,252.77 666.3,253.12 667.3,253.49 668.3,253.87 669.3,254.28 670.3,254.70 671.3,255.15 672.3,255.61 673.3,256.10 674.3,256.61 675.3,257.14 676.3,257.70 677.3,258.27 678.3,258.87 679.3,259.50 680.3,260.15 681.3,260.82 682.3,261.52 683.3,262.24 684.3,262.99 685.3,263.77 686.3,264.57 687.3,265.40 688.3,266.26 689.3,267.14 690.3,268.06 691.3,269.00 692.3,269.97 693.3,270.97 694.3,272.00 695.3,273.06 696.3,274.15 697.3,275.27 698.3,276.42 699.3,277.59 700.3,278.79 701.3,280.01 702.3,281.26 703.3,282.53 704.3,283.82 705.3,285.13 706.3,286.46 707.3,287.82 708.3,289.19 709.3,290.59 710.3,292.01 711.3,293.45 712.3,294.92 713.3,296.42 714.3,297.94 715.3,299.50 716.3,301.08 717.3,302.70 718.3,304.34 719.3,306.03 720.3,307.74 721.3,309.49 722.3,311.26 723.3,313.06 724.3,314.88 725.3,316.72 726.3,318.58 727.3,320.46 728.3,322.35 729.3,324.26 730.3,326.17 731.3,328.09 732.3,330.01 733.3,331.94 734.3,333.85 735.3,335.76 736.3,337.67 737.3,339.57 738.3,341.46 739.3,343.35 740.3,345.24" fill="none" stroke="#00ff00" stroke-width="1.95" stroke-linejoin="round"/>
<path d="M134.3,434.50 135.3,434.42 136.3,434.34 137.3,434.25 138.3,434.17 139.3,434.09 140.3,434.01 141.3,433.92 142.3,433.84 143.3,433.76 144.3,433.67 145.3,433.59 146.3,433.50 147.3,433.42 148.3,433.33 149.3,433.24 150.3,433.15 151.3,433.06 152.3,432.97 153.3,432.88 154.3,432.79 155.3,432.70 156.3,432.60 157.3,432.51 158.3,432.41 159.3,432.31 160.3,432.21 161.3,432.11 162.3,432.00 163.3,431.90 164.3,431.79 165.3,431.68 166.3,431.57 167.3,431.46 168.3,431.34 169.3,431.22 170.3,431.10 171.3,430.98 172.3,430.86 173.3,430.73 174.3,430.60 175.3,430.47 176.3,430.34 177.3,430.20 178.3,430.06 179.3,429.92 180.3,429.78 181.3,429.63 182.3,429.48 183.3,429.32 184.3,429.17 185.3,429.01 186.3,428.84 187.3,428.68 188.3,428.51 189.3,428.33 190.3,428.15 191.3,427.97 192.3,427.79 193.3,427.60 194.3,427.41 195.3,427.21 196.3,427.01 197.3,426.80 198.3,426.60 199.3,426.38 200.3,426.16 201.3,425.94 202.3,425.71 203.3,425.48 204.3,425.24 205.3,425.00 206.3,424.75 207.3,424.49 208.3,424.24 209.3,423.97 210.3,423.70 211.3,423.42 212.3,423.14 213.3,422.86 214.3,422.56 215.3,422.26 216.3,421.96 217.3,421.65 218.3,421.33 219.3,421.01 220.3,420.68 221.3,420.35 222.3,420.01 223.3,419.66 224.3,419.31 225.3,418.96 226.3,418.60 227.3,418.23 228.3,417.85 229.3,417.47 230.3,417.09 231.3,416.70 232.3,416.30 233.3,415.90 234.3,415.49 235.3,415.08 236.3,414.66 237.3,414.23 238.3,413.80 239.3,413.37 240.3,412.93 241.3,412.48 242.3,412.03 243.3,411.57 244.3,411.11 245.3,410.64 246.3,410.17 247.3,409.69 248.3,409.21 249.3,408.73 250.3,408.24 251.3,407.74 252.3,407.24 253.3,406.74 254.3,406.23 255.3,405.72 256.3,405.20 257.3,404.68 258.3,404.16 259.3,403.63 260.3,403.10 261.3,402.56 262.3,402.03 263.3,401.48 264.3,400.94 265.3,400.39 266.3,399.84 267.3,399.29 268.3,398.73 269.3,398.17 270.3,397.61 271.3,397.04 272.3,396.47 273.3,395.90 274.3,395.33 275.3,394.75 276.3,394.17 277.3,393.59 278.3,393.01 279.3,392.43 280.3,391.84 281.3,391.26 282.3,390.67 283.3,390.08 284.3,389.48 285.3,388.89 286.3,388.29 287.3,387.70 288.3,387.10 289.3,386.50 290.3,385.90 291.3,385.30 292.3,384.70 293.3,384.10 294.3,383.50 295.3,382.90 296.3,382.30 297.3,381.70 298.3,381.10 299.3,380.50 300.3,379.90 301.3,379.31 302.3,378.71 303.3,378.12 304.3,377.52 305.3,376.93 306.3,376.35 307.3,375.76 308.3,375.18 309.3,374.60 310.3,374.02 311.3,373.44 312.3,372.87 313.3,372.30 314.3,371.74 315.3,371.17 316.3,370.62 317.3,370.06 318.3,369.51 319.3,368.97 320.3,368.42 321.3,367.89 322.3,367.36 323.3,366.83 324.3,366.31 325.3,365.79 326.3,365.28 327.3,364.77 328.3,364.27 329.3,363.78 330.3,363.29 331.3,362.81 332.3,362.34 333.3,361.87 334.3,361.41 335.3,360.96 336.3,360.51 337.3,360.07 338.3,359.64 339.3,359.22 340.3,358.80 341.3,358.39 342.3,357.99 343.3,357.59 344.3,357.20 345.3,356.82 346.3,356.44 347.3,356.07 348.3,355.71 349.3,355.35 350.3,355.00 351.3,354.66 352.3,354.33 353.3,353.99 354.3,353.67 355.3,353.35 356.3,353.04 357.3,352.74 358.3,352.44 359.3,352.15 360.3,351.86 361.3,351.58 362.3,351.30 363.3,351.03 364.3,350.77 365.3,350.51 366.3,350.26 367.3,350.01 368.3,349.77 369.3,349.54 370.3,349.31 371.3,349.08 372.3,348.87 373.3,348.65 374.3,348.44 375.3,348.24 376.3,348.04 377.3,347.85 378.3,347.66 379.3,347.48 380.3,347.30 381.3,347.13 382.3,346.96 383.3,346.79 384.3,346.63 385.3,346.48 386.3,346.33 387.3,346.19 388.3,346.04 389.3,345.91 390.3,345.77 391.3,345.64 392.3,345.52 393.3,345.39 394.3,345.27 395.3,345.16 396.3,345.04 397.3,344.93 398.3,344.81 399.3,344.70 400.3,344.60 401.3,344.49 402.3,344.38 403.3,344.28 404.3,344.17 405.3,344.07 406.3,343.97 407.3,343.86 408.3,343.76 409.3,343.65 410.3,343.55 411.3,343.44 412.3,343.34 413.3,343.23 414.3,343.12 415.3,343.01 416.3,342.90 417.3,342.79 418.3,342.67 419.3,342.56 420.3,342.45 421.3,342.33 422.3,342.22 423.3,342.10 424.3,341.98 425.3,341.86 426.3,341.75 427.3,341.63 428.3,341.51 429.3,341.39 430.3,341.27 431.3,341.14 432.3,341.02 433.3,340.90 434.3,340.78 435.3,340.65 436.3,340.53 437.3,340.40 438.3,340.28 439.3,340.15 440.3,340.02 441.3,339.89 442.3,339.77 443.3,339.64 444.3,339.51 445.3,339.37 446.3,339.24 447.3,339.11 448.3,338.97 449.3,338.83 450.3,338.70 451.3,338.56 452.3,338.41 453.3,338.27 454.3,338.13 455.3,337.98 456.3,337.83 457.3,337.68 458.3,337.53 459.3,337.37 460.3,337.22 461.3,337.06 462.3,336.90 463.3,336.73 464.3,336.57 465.3,336.40 466.3,336.23 467.3,336.05 468.3,335.88 469.3,335.70 470.3,335.52 471.3,335.33 472.3,335.15 473.3,334.96 474.3,334.76 475.3,334.56 476.3,334.36 477.3,334.16 478.3,333.95 479.3,333.74 480.3,333.53 481.3,333.31 482.3,333.09 483.3,332.87 484.3,332.64 485.3,332.41 486.3,332.17 487.3,331.93 488.3,331.69 489.3,331.44 490.3,331.19 491.3,330.93 492.3,330.67 493.3,330.41 494.3,330.15 495.3,329.88 496.3,329.61 497.3,329.33 498.3,329.05 499.3,328.77 500.3,328.49 501.3,328.20 502.3,327.91 503.3,327.62 504.3,327.32 505.3,327.02 506.3,326.72 507.3,326.42 508.3,326.11 509.3,325.80 510.3,325.49 511.3,325.17 512.3,324.85 513.3,324.53 514.3,324.21 515.3,323.88 516.3,323.55 517.3,323.21 518.3,322.87 519.3,322.53 520.3,322.18 521.3,321.83 522.3,321.47 523.3,321.11 524.3,320.74 525.3,320.37 526.3,319.99 527.3,319.61 528.3,319.23 529.3,318.83 530.3,318.44 531.3,318.03 532.3,317.63 533.3,317.21 534.3,316.79 535.3,316.37 536.3,315.94 537.3,315.51 538.3,315.07 539.3,314.64 540.3,314.19 541.3,313.75 542.3,313.29 543.3,312.84 544.3,312.38 545.3,311.91 546.3,311.44 547.3,310.96 548.3,310.48 549.3,309.99 550.3,309.49 551.3,308.99 552.3,308.47 553.3,307.96 554.3,307.43 555.3,306.91 556.3,306.37 557.3,305.83 558.3,305.29 559.3,304.75 560.3,304.20 561.3,303.65 562.3,303.09 563.3,302.53 564.3,301.98 565.3,301.42 566.3,300.86 567.3,300.30 568.3,299.74 569.3,299.18 570.3,298.61 571.3,298.05 572.3,297.49 573.3,296.93 574.3,296.37 575.3,295.81 576.3,295.24 577.3,294.68 578.3,294.12 579.3,293.56 580.3,293.00 581.3,292.44 582.3,291.88 583.3,291.32 584.3,290.77 585.3,290.21 586.3,289.65 587.3,289.10 588.3,288.54 589.3,287.99 590.3,287.44 591.3,286.89 592.3,286.34 593.3,285.79 594.3,285.25 595.3,284.71 596.3,284.17 597.3,283.63 598.3,283.09 599.3,282.55 600.3,282.02 601.3,281.49 602.3,280.97 603.3,280.45 604.3,279.93 605.3,279.41 606.3,278.90 607.3,278.38 608.3,277.88 609.3,277.37 610.3,276.88 611.3,276.38 612.3,275.89 613.3,275.41 614.3,274.93 615.3,274.46 616.3,274.00 617.3,273.54 618.3,273.09 619.3,272.66 620.3,272.22 621.3,271.80 622.3,271.39 623.3,270.99 624.3,270.60 625.3,270.22 626.3,269.84 627.3,269.48 628.3,269.13 629.3,268.78 630.3,268.45 631.3,268.12 632.3,267.81 633.3,267.51 634.3,267.21 635.3,266.92 636.3,266.65 637.3,266.38 638.3,266.13 639.3,265.88 640.3,265.65 641.3,265.43 642.3,265.22 643.3,265.02 644.3,264.84 645.3,264.67 646.3,264.52 647.3,264.38 648.3,264.25 649.3,264.14 650.3,264.05 651.3,263.97 652.3,263.91 653.3,263.87 654.3,263.84 655.3,263.84 656.3,263.85 657.3,263.88 658.3,263.93 659.3,264.00 660.3,264.08 661.3,264.19 662.3,264.31 663.3,264.45 664.3,264.62 665.3,264.80 666.3,265.00 667.3,265.22 668.3,265.47 669.3,265.74 670.3,266.03 671.3,266.34 672.3,266.67 673.3,267.03 674.3,267.42 675.3,267.83 676.3,268.26 677.3,268.72 678.3,269.20 679.3,269.71 680.3,270.25 681.3,270.82 682.3,271.41 683.3,272.03 684.3,272.68 685.3,273.36 686.3,274.07 687.3,274.81 688.3,275.57 689.3,276.37 690.3,277.19 691.3,278.03 692.3,278.91 693.3,279.81 694.3,280.74 695.3,281.70 696.3,282.68 697.3,283.69 698.3,284.72 699.3,285.78 700.3,286.87 701.3,287.98 702.3,289.12 703.3,290.29 704.3,291.47 705.3,292.69 706.3,293.93 707.3,295.19 708.3,296.48 709.3,297.79 710.3,299.13 711.3,300.49 712.3,301.89 713.3,303.30 714.3,304.73 715.3,306.19 716.3,307.66 717.3,309.16 718.3,310.67 719.3,312.21 720.3,313.76 721.3,315.33 722.3,316.92 723.3,318.53 724.3,320.16 725.3,321.81 726.3,323.47 727.3,325.15 728.3,326.84 729.3,328.55 730.3,330.28 731.3,332.02 732.3,333.77 733.3,335.53 734.3,337.30 735.3,339.08 736.3,340.87 737.3,342.66 738.3,344.45 739.3,346.25 740.3,348.05" fill="none" stroke="#ff0000" stroke-width="1.95" stroke-linejoin="round"/>
<path d="M639.4,321.60 H713.0" stroke="#000000" stroke-width="1.95"/>
<text transform="translate(623.3,330.7) scale(1,1.035)" text-anchor="end">ρ<tspan dy="3">=</tspan><tspan dy="-3">0.29</tspan></text>
<path d="M639.4,347.88 H713.0" stroke="#00ffff" stroke-width="1.95"/>
<text transform="translate(623.3,357.0) scale(1,1.035)" text-anchor="end">ρ<tspan dy="3">=</tspan><tspan dy="-3">0.31</tspan></text>
<path d="M639.4,374.16 H713.0" stroke="#ff00ff" stroke-width="1.95"/>
<text transform="translate(623.3,383.3) scale(1,1.035)" text-anchor="end">ρ<tspan dy="3">=</tspan><tspan dy="-3">0.33</tspan></text>
<path d="M639.4,400.44 H713.0" stroke="#0000ff" stroke-width="1.95"/>
<text transform="translate(623.3,409.5) scale(1,1.035)" text-anchor="end">ρ<tspan dy="3">=</tspan><tspan dy="-3">0.35</tspan></text>
<path d="M639.4,426.72 H713.0" stroke="#00ff00" stroke-width="1.95"/>
<text transform="translate(623.3,435.8) scale(1,1.035)" text-anchor="end">ρ<tspan dy="3">=</tspan><tspan dy="-3">0.37</tspan></text>
<path d="M639.4,453.00 H713.0" stroke="#ff0000" stroke-width="1.95"/>
<text transform="translate(623.3,462.1) scale(1,1.035)" text-anchor="end">ρ<tspan dy="3">=</tspan><tspan dy="-3">0.4</tspan></text>
<circle cx="311.0" cy="64.4" r="5" fill="#000000"/>
<circle cx="323.7" cy="122.4" r="5" fill="#00ffff"/>
<circle cx="340.4" cy="177.8" r="5" fill="#ff00ff"/>
<circle cx="353.1" cy="230.1" r="5" fill="#0000ff"/>
<circle cx="378.1" cy="278.9" r="5" fill="#00ff00"/>
<circle cx="622.6" cy="225.6" r="5" fill="#ff00ff"/>
<circle cx="635.2" cy="238.3" r="5" fill="#0000ff"/>
<circle cx="643.7" cy="249.3" r="5" fill="#00ff00"/>
<circle cx="656.3" cy="263.8" r="5" fill="#ff0000"/>
<path d="M164.91,473.00 v-3.4 M164.91,31.40 v3.4 M205.37,473.00 v-3.4 M205.37,31.40 v3.4 M226.13,473.00 v-3.4 M226.13,31.40 v3.4 M235.98,473.00 v-6.85 M235.98,31.40 v6.85 M266.59,473.00 v-3.4 M266.59,31.40 v3.4 M307.06,473.00 v-3.4 M307.06,31.40 v3.4 M327.81,473.00 v-3.4 M327.81,31.40 v3.4 M337.67,473.00 v-6.85 M337.67,31.40 v6.85 M368.28,473.00 v-3.4 M368.28,31.40 v3.4 M408.74,473.00 v-3.4 M408.74,31.40 v3.4 M429.50,473.00 v-3.4 M429.50,31.40 v3.4 M439.35,473.00 v-6.85 M439.35,31.40 v6.85 M469.96,473.00 v-3.4 M469.96,31.40 v3.4 M510.42,473.00 v-3.4 M510.42,31.40 v3.4 M531.18,473.00 v-3.4 M531.18,31.40 v3.4 M541.03,473.00 v-6.85 M541.03,31.40 v6.85 M571.64,473.00 v-3.4 M571.64,31.40 v3.4 M612.11,473.00 v-3.4 M612.11,31.40 v3.4 M632.86,473.00 v-3.4 M632.86,31.40 v3.4 M642.72,473.00 v-6.85 M642.72,31.40 v6.85 M673.33,473.00 v-3.4 M673.33,31.40 v3.4 M713.79,473.00 v-3.4 M713.79,31.40 v3.4 M734.55,473.00 v-3.4 M734.55,31.40 v3.4 M134.30,86.60 h6.85 M744.40,86.60 h-6.85 M134.30,141.80 h6.85 M744.40,141.80 h-6.85 M134.30,197.00 h6.85 M744.40,197.00 h-6.85 M134.30,252.20 h6.85 M744.40,252.20 h-6.85 M134.30,307.40 h6.85 M744.40,307.40 h-6.85 M134.30,362.60 h6.85 M744.40,362.60 h-6.85 M134.30,417.80 h6.85 M744.40,417.80 h-6.85" stroke="#000" stroke-width="1.4" fill="none"/>
<rect x="134.30" y="31.40" width="610.10" height="441.60" fill="none" stroke="#000" stroke-width="1.5"/>
<text transform="translate(118.3,39.8) scale(1,1.035)" text-anchor="end">0.5</text>
<text transform="translate(118.3,95.0) scale(1,1.035)" text-anchor="end">0.4</text>
<text transform="translate(118.3,150.2) scale(1,1.035)" text-anchor="end">0.3</text>
<text transform="translate(118.3,205.4) scale(1,1.035)" text-anchor="end">0.2</text>
<text transform="translate(118.3,260.6) scale(1,1.035)" text-anchor="end">0.1</text>
<text transform="translate(118.3,315.8) scale(1,1.035)" text-anchor="end">0</text>
<text transform="translate(118.3,371.0) scale(1,1.035)" text-anchor="end">-0.1</text>
<text transform="translate(118.3,426.2) scale(1,1.035)" text-anchor="end">-0.2</text>
<text transform="translate(118.3,481.4) scale(1,1.035)" text-anchor="end">-0.3</text>
<text transform="translate(138.3,507.7) scale(1,1.035)" text-anchor="middle">1e-06</text>
<text transform="translate(240.0,507.7) scale(1,1.035)" text-anchor="middle">1e-05</text>
<text transform="translate(341.7,507.7) scale(1,1.035)" text-anchor="middle">0.0001</text>
<text transform="translate(443.3,507.7) scale(1,1.035)" text-anchor="middle">0.001</text>
<text transform="translate(545.0,507.7) scale(1,1.035)" text-anchor="middle">0.01</text>
<text transform="translate(646.7,507.7) scale(1,1.035)" text-anchor="middle">0.1</text>
<text transform="translate(748.4,507.7) scale(1,1.035)" text-anchor="middle">1</text>
<text transform="translate(440.1,547.2) scale(1,1.035)" text-anchor="middle">E</text>
<text transform="translate(35.5,252.15) rotate(-90)" text-anchor="middle">ϕ(E)</text>
</svg>
</body></html>
